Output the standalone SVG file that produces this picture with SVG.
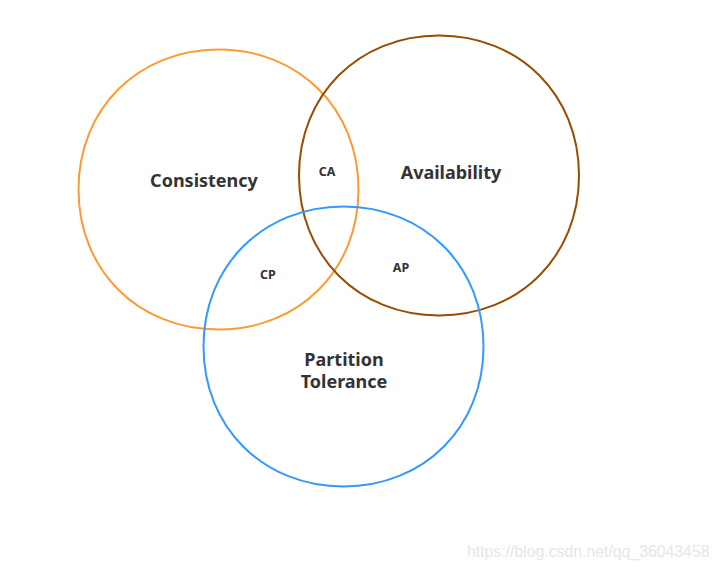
<svg xmlns="http://www.w3.org/2000/svg" width="719" height="569" viewBox="0 0 719 569">
<defs>
<style>
.ring{fill:none;stroke-width:2}
.big{font-family:"Noto Sans","Open Sans",sans-serif;font-weight:bold;font-size:18px;fill:#333;text-anchor:middle}
.small{font-family:"Noto Sans","Open Sans",sans-serif;font-weight:bold;font-size:12.5px;fill:#333;text-anchor:middle}
.wm{font-family:"Liberation Sans",Arial,sans-serif;font-size:15.8px;fill:#e6e6e6}
</style>
</defs>
<rect width="719" height="569" fill="#fff"/>
<g id="consistency">
<path class="ring" stroke="#ff9933" d="M218.5,49.5 C299,49.5 358.5,109 358.5,189.5 C358.5,270 299,329.5 218.5,329.5 C138,329.5 78.5,270 78.5,189.5 C78.5,109 138,49.5 218.5,49.5 Z"/>
<text class="big" x="204" y="187">Consistency</text>
</g>
<g id="availability">
<path class="ring" stroke="#994c00" d="M439,35.5 C519.5,35.5 579,95 579,175.5 C579,256 519.5,315.5 439,315.5 C358.5,315.5 299,256 299,175.5 C299,95 358.5,35.5 439,35.5 Z"/>
<text class="big" x="451" y="179">Availability</text>
</g>
<g id="partition">
<path class="ring" stroke="#3399ff" d="M343.5,206.5 C424,206.5 483.5,266 483.5,346.5 C483.5,427 424,486.5 343.5,486.5 C263,486.5 203.5,427 203.5,346.5 C203.5,266 263,206.5 343.5,206.5 Z"/>
<text class="big" x="344" y="366">Partition</text>
<text class="big" x="344" y="388">Tolerance</text>
</g>
<g id="labels">
<text class="small" x="327" y="176">CA</text>
<text class="small" x="268" y="279">CP</text>
<text class="small" x="401" y="272">AP</text>
</g>
<g id="connectors"></g>
<text class="wm" x="467" y="557">https://blog.csdn.net/qq_36043458</text>
</svg>
